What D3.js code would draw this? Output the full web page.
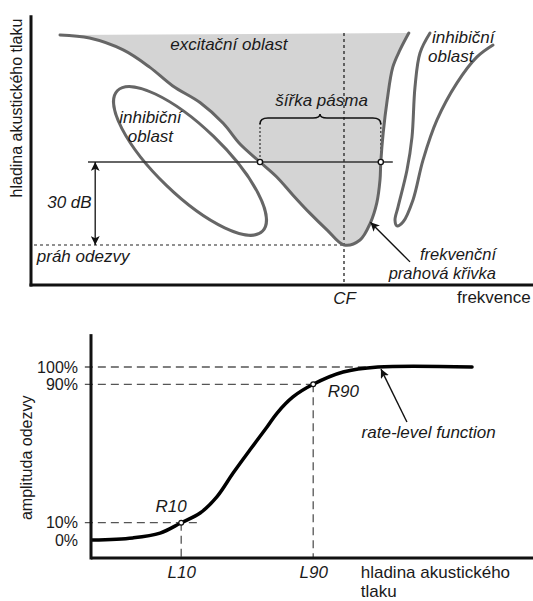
<!DOCTYPE html>
<html>
<head>
<meta charset="utf-8">
<script src="https://cdn.jsdelivr.net/npm/d3@7"></script>
<style>
  html, body { margin: 0; padding: 0; background: #fff; }
  svg { display: block; }
  text { font-family: "Liberation Sans", Arial, sans-serif; fill: #1a1a1a; }
  .it { font-style: italic; }
</style>
</head>
<body>
<svg id="chart" width="533" height="601"></svg>
<script>
// ---- Tuning curve panel: frequency in octaves re CF, level in dB re threshold ----
const tuningOct = [-3.55, -3.18, -2.76, -2.43, -2.14, -1.8, -1.51, -1.3, -1.05, -0.84, -0.64, -0.43, -0.21, 0, 0.2, 0.33, 0.41, 0.45, 0.46, 0.49, 0.54, 0.61, 0.7, 0.81];
const tuningDb  = [75.9, 74.8, 70.5, 64.3, 57.5, 51.5, 44, 36.5, 30, 24.6, 18.1, 11.6, 5.4, 0, 1.8, 8, 15.2, 23.5, 30, 40.5, 52.4, 64.3, 70.5, 76.6];

const sideOct = [1.075, 0.95, 0.8875, 0.85, 0.7875, 0.675, 0.6375, 0.6625, 0.7375, 0.8625, 0.9875, 1.1625, 1.4125, 1.6625, 1.8625];
const sideDb  = [76.6, 69.4, 57.1, 39.0, 27.1, 13.7, 9.0, 6.9, 8.3, 16.3, 30.7, 45.2, 58.6, 68.0, 72.3];

// low-frequency inhibitory region: centre (oct, dB)
const lowInhibCentre = [-1.925, 30.4];

const bandLevel = 30;                 // dB above threshold
const bandEdges = [-1.05, 0.46];      // octaves where the curve crosses bandLevel

// ---- Rate-level panel ----
const rlLevel = [0.2, 9.5, 15.7, 20.5, 24.8, 28.6, 32.3, 36.1, 40, 42.3, 45.9, 50.5, 57.3, 65.2, 86.6];
const rlRate  = [0, 1.2, 4.0, 10, 15.6, 24.9, 38.7, 52, 65.3, 73.4, 82.7, 90, 97.1, 100, 100];
const rateTicks = [0, 10, 90, 100];
const rateTickLabels = ["0%", "10%", "90%", "100%"];
const L10 = 20.5, L90 = 50.5;
const levelTickLabels = ["L10", "L90"];

const svg = d3.select("#chart");
const GREY = "#666666";
const FILL = "#d4d4d4";
const FS = 17;

// markers
const defs = svg.append("defs");
function arrowMarker(id, orient) {
  defs.append("marker")
    .attr("id", id).attr("viewBox", "0 0 10 10")
    .attr("refX", 10).attr("refY", 5)
    .attr("markerWidth", 9).attr("markerHeight", 9)
    .attr("markerUnits", "userSpaceOnUse")
    .attr("orient", orient)
    .append("path").attr("d", "M0,0 L10,5 L0,10 L2.5,5 Z").attr("fill", "#111");
}
arrowMarker("arr", "auto");
arrowMarker("arrS", "auto-start-reverse");

function txt(g, x, y, s, italic, anchor, size) {
  return g.append("text").attr("x", x).attr("y", y).text(s)
    .attr("class", italic ? "it" : null)
    .attr("text-anchor", anchor || "start")
    .style("font-size", (size || FS) + "px");
}

// ================= Top panel =================
const xT = d3.scaleLinear().domain([-3.9, 2.35]).range([32, 532]);
const yT = d3.scaleLinear().domain([-15, 85]).range([286.5, 9.83]);
const gTop = svg.append("g");

const tuning = tuningOct.map((o, i) => [o, tuningDb[i]]);
const lineT = d3.line().x(d => xT(d[0])).y(d => yT(d[1])).curve(d3.curveCatmullRom.alpha(0.5));

// excitatory area (filled), closed along the top
gTop.append("path")
  .attr("d", lineT(tuning) + "Z")
  .attr("fill", FILL).attr("stroke", "none");

// CF dotted line
gTop.append("line")
  .attr("x1", xT(0)).attr("x2", xT(0))
  .attr("y1", yT(76.6)).attr("y2", yT(-14.5))
  .attr("stroke", "#222").attr("stroke-width", 1.3).attr("stroke-dasharray", "3,3");

// threshold dashed line
gTop.append("line")
  .attr("x1", xT(-3.9) + 2).attr("x2", xT(0))
  .attr("y1", yT(0)).attr("y2", yT(0))
  .attr("stroke", "#222").attr("stroke-width", 1.2).attr("stroke-dasharray", "3,3");

// bandwidth brace with dotted drops
const bx0 = xT(bandEdges[0]), bx1 = xT(bandEdges[1]);
const bY = yT(45.9);
const bMid = xT(-0.3);
[bx0, bx1].forEach(bx => {
  gTop.append("line")
    .attr("x1", bx).attr("x2", bx).attr("y1", bY + 5).attr("y2", yT(bandLevel))
    .attr("stroke", "#333").attr("stroke-width", 1.2).attr("stroke-dasharray", "2,2");
});
gTop.append("path")
  .attr("d", `M${bx0},${bY + 6} Q${bx0},${bY} ${bx0 + 8},${bY} L${bMid - 7},${bY} Q${bMid},${bY} ${bMid},${bY - 4} Q${bMid},${bY} ${bMid + 7},${bY} L${bx1 - 8},${bY} Q${bx1},${bY} ${bx1},${bY + 6}`)
  .attr("fill", "none").attr("stroke", "#111").attr("stroke-width", 1.6);

// low-frequency inhibitory ellipse
gTop.append("ellipse")
  .attr("cx", 0).attr("cy", 0).attr("rx", 101).attr("ry", 34)
  .attr("transform", `translate(${xT(lowInhibCentre[0])},${yT(lowInhibCentre[1])}) rotate(44)`)
  .attr("fill", "none").attr("stroke", GREY).attr("stroke-width", 3);

// high-frequency inhibitory region
const side = sideOct.map((o, i) => [o, sideDb[i]]);
gTop.append("path")
  .attr("d", lineT(side))
  .attr("fill", "none").attr("stroke", GREY).attr("stroke-width", 3).attr("stroke-linecap", "round");

// tuning curve outline
gTop.append("path")
  .attr("d", lineT(tuning))
  .attr("fill", "none").attr("stroke", GREY).attr("stroke-width", 3).attr("stroke-linecap", "round");

// 30 dB level line
gTop.append("line")
  .attr("x1", xT(-3.2)).attr("x2", xT(0.61))
  .attr("y1", yT(bandLevel)).attr("y2", yT(bandLevel))
  .attr("stroke", "#333").attr("stroke-width", 1.5);

// band-edge circles
bandEdges.forEach(o => {
  gTop.append("circle").attr("cx", xT(o)).attr("cy", yT(bandLevel)).attr("r", 2.6)
    .attr("fill", "#fff").attr("stroke", "#111").attr("stroke-width", 1.4);
});

// 30 dB double arrow
gTop.append("line")
  .attr("x1", xT(-3.11)).attr("x2", xT(-3.11))
  .attr("y1", yT(bandLevel)).attr("y2", yT(0))
  .attr("stroke", "#111").attr("stroke-width", 1.3)
  .attr("marker-start", "url(#arrS)").attr("marker-end", "url(#arr)");

// arrow to the threshold curve
gTop.append("line")
  .attr("x1", xT(0.825)).attr("y1", yT(-6.1))
  .attr("x2", xT(0.33)).attr("y2", yT(8.2))
  .attr("stroke", "#111").attr("stroke-width", 1.4).attr("marker-end", "url(#arr)");

// axes
const axT = d3.axisBottom(xT).tickValues([0]).tickFormat(() => "CF").tickSize(0).tickPadding(7);
const gxT = gTop.append("g").attr("transform", `translate(0,${yT(-14.5)})`).call(axT);
gxT.select(".domain").remove();
gxT.selectAll("text").attr("class", "it").style("font-size", FS + "px")
  .style("font-family", '"Liberation Sans", Arial, sans-serif').attr("fill", "#1a1a1a");
gTop.append("line").attr("x1", xT(-3.9) - 2.5).attr("x2", 533)
  .attr("y1", yT(-14.5)).attr("y2", yT(-14.5)).attr("stroke", "#111").attr("stroke-width", 3);
gTop.append("line").attr("x1", xT(-3.9) - 1).attr("x2", xT(-3.9) - 1)
  .attr("y1", yT(83)).attr("y2", yT(-14.5) + 1.5).attr("stroke", "#111").attr("stroke-width", 3);

txt(gTop, 0, 0, "hladina akustického tlaku", false, "middle", 16)
  .attr("transform", `translate(22,${yT(49.5)}) rotate(-90)`);
txt(gTop, xT(-1.44), yT(70.5), "excitační oblast", true, "middle");
txt(gTop, xT(-2.42), yT(44.1), "inhibiční", true, "middle");
txt(gTop, xT(-2.42), yT(37.2), "oblast", true, "middle");
txt(gTop, xT(-0.28), yT(50.2), "šířka pásma", true, "middle");
txt(gTop, xT(1.1), yT(73), "inhibiční", true, "start");
txt(gTop, xT(1.05), yT(66.1), "oblast", true, "start");
txt(gTop, xT(-3.71), yT(13.4), "30 dB", true, "start");
txt(gTop, xT(-3.84), yT(-6.1), "práh odezvy", true, "start");
txt(gTop, xT(1.9), yT(-5.6), "frekvenční", true, "end", 16.5);
txt(gTop, xT(1.9), yT(-12.2), "prahová křivka", true, "end", 16.5);
txt(gTop, 457, yT(-20.8), "frekvence", false, "start");

// ================= Bottom panel =================
const xB = d3.scaleLinear().domain([0, 100]).range([91, 531]);
const yB = d3.scaleLinear().domain([0, 100]).range([540, 367]);
const gBot = svg.append("g");

// guide lines
function guide(x1, y1, x2, y2) {
  gBot.append("line").attr("x1", x1).attr("y1", y1).attr("x2", x2).attr("y2", y2)
    .attr("stroke", "#555").attr("stroke-width", 1.3).attr("stroke-dasharray", "8,5");
}
guide(xB(-1.4), yB(100), xB(65.2), yB(100));
guide(xB(-1.4), yB(90), xB(L90), yB(90));
guide(xB(-1.4), yB(10), xB(24.8), yB(10));
guide(xB(L10), yB(10), xB(L10), yB(-10.4));
guide(xB(L90), yB(90), xB(L90), yB(-10.4));

// rate-level curve
const rl = rlLevel.map((l, i) => [l, rlRate[i]]);
gBot.append("path")
  .attr("d", d3.line().x(d => xB(d[0])).y(d => yB(d[1])).curve(d3.curveCatmullRom.alpha(0.5))(rl))
  .attr("fill", "none").attr("stroke", "#000").attr("stroke-width", 3.5).attr("stroke-linecap", "round");

[[L10, 10], [L90, 90]].forEach(p => {
  gBot.append("circle").attr("cx", xB(p[0])).attr("cy", yB(p[1])).attr("r", 2.4)
    .attr("fill", "#fff").attr("stroke", "#111").attr("stroke-width", 1.2);
});

// axes
const ayB = d3.axisLeft(yB).tickValues(rateTicks)
  .tickFormat(d => rateTickLabels[rateTicks.indexOf(d)]).tickSize(0).tickPadding(13);
const gyB = gBot.append("g").attr("transform", `translate(${xB(0)},0)`).call(ayB);
gyB.select(".domain").remove();
gyB.selectAll("text").style("font-size", "16px")
  .style("font-family", '"Liberation Sans", Arial, sans-serif').attr("fill", "#1a1a1a");

const axB = d3.axisBottom(xB).tickValues([L10, L90])
  .tickFormat(d => levelTickLabels[[L10, L90].indexOf(d)]).tickSize(0).tickPadding(8);
const gxB = gBot.append("g").attr("transform", `translate(0,${yB(-10.4)})`).call(axB);
gxB.select(".domain").remove();
gxB.selectAll("text").attr("class", "it").style("font-size", FS + "px")
  .style("font-family", '"Liberation Sans", Arial, sans-serif').attr("fill", "#1a1a1a");

gBot.append("line").attr("x1", xB(0)).attr("x2", 533)
  .attr("y1", yB(-10.4)).attr("y2", yB(-10.4)).attr("stroke", "#111").attr("stroke-width", 3);
gBot.append("line").attr("x1", xB(0)).attr("x2", xB(0))
  .attr("y1", yB(119)).attr("y2", yB(-10.4) + 1.5).attr("stroke", "#111").attr("stroke-width", 3);

txt(gBot, 0, 0, "amplituda odezvy", false, "middle", 16)
  .attr("transform", `translate(32,${yB(47.5)}) rotate(-90)`);
txt(gBot, xB(18.2), yB(16.2), "R10", true, "middle");
txt(gBot, xB(53.8), yB(82.5), "R90", true, "start");
txt(gBot, xB(61.5), yB(59), "rate-level function", true, "start");
txt(gBot, xB(61.3), 578, "hladina akustického", false, "start");
txt(gBot, xB(61.3), 597, "tlaku", false, "start");

gBot.append("line")
  .attr("x1", xB(71.8)).attr("y1", yB(68.2))
  .attr("x2", xB(65.9)).attr("y2", yB(98.8))
  .attr("stroke", "#111").attr("stroke-width", 1.4).attr("marker-end", "url(#arr)");
</script>
</body>
</html>
